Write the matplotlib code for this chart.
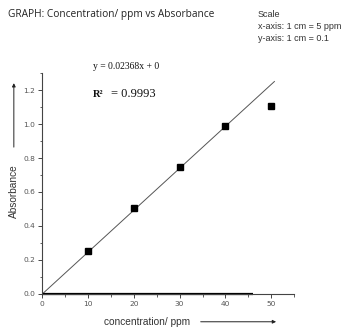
import numpy as np
import matplotlib
matplotlib.use("Agg")
import matplotlib.pyplot as plt
from matplotlib.ticker import MultipleLocator

# measured points
conc = [10, 20, 30, 40, 50]
absorb = [0.25, 0.505, 0.747, 0.99, 1.107]

# fitted line as drawn on the graph
fit_x = [0, 50.7]
fit_y = [0, 1.25]

x_ticks = [0, 10, 20, 30, 40, 50]
y_ticks = [0.0, 0.2, 0.4, 0.6, 0.8, 1.0, 1.2]

fig = plt.figure(figsize=(3.46, 3.28), dpi=100)
ax = fig.add_axes([0.1223, 0.1037, 0.7277, 0.6737])

ax.plot(fit_x, fit_y, color="#555555", lw=0.7)
ax.plot(conc, absorb, "s", color="black", ms=3.7)
# heavy stretch of the x axis
ax.plot([0, 46], [0, 0], color="black", lw=1.6, solid_capstyle="butt", clip_on=False)

ax.set_xlim(0, 55)
ax.set_ylim(0, 1.3)
ax.spines["top"].set_visible(False)
ax.spines["right"].set_visible(False)
for s in ("left", "bottom"):
    ax.spines[s].set_color("#444444")
    ax.spines[s].set_linewidth(0.8)

ax.set_xticks(x_ticks)
ax.set_yticks(y_ticks)
ax.set_yticklabels([f"{v:.1f}" for v in y_ticks])
ax.xaxis.set_minor_locator(MultipleLocator(5))
ax.yaxis.set_minor_locator(MultipleLocator(0.1))
ax.tick_params(which="major", length=3, width=0.7, color="#444444",
               labelsize=5.4, labelcolor="#555555", pad=2)
ax.tick_params(which="minor", length=1.8, width=0.6, color="#444444")

# title and scale notes
fig.text(0.023, 0.955, "GRAPH: Concentration/ ppm vs Absorbance",
         family="Open Sans", fontsize=7.3, color="#222222", va="center")
fig.text(0.745, 0.955, "Scale", family="Liberation Sans", fontsize=6.5,
         color="#333333", va="center")
fig.text(0.745, 0.918, "x-axis: 1 cm = 5 ppm", family="Liberation Sans",
         fontsize=6.5, color="#333333", va="center")
fig.text(0.745, 0.882, "y-axis: 1 cm = 0.1", family="Liberation Sans",
         fontsize=6.5, color="#333333", va="center")

# fit annotation
fig.text(0.268, 0.797, "y = 0.02368x + 0", family="Liberation Serif",
         fontsize=6.9, color="#111111", va="center")
fig.text(0.268, 0.712, "R\u00b2", family="Liberation Serif", fontsize=7.5,
         weight="bold", color="#111111", va="center")
fig.text(0.322, 0.712, "= 0.9993", family="Liberation Serif", fontsize=9,
         color="#111111", va="center")

# axis labels with arrows
fig.text(0.040, 0.418, "Absorbance", family="Liberation Sans", fontsize=7.3,
         color="#333333", rotation=90, ha="center", va="center")
fig.add_artist(matplotlib.patches.FancyArrowPatch(
    (0.040, 0.543), (0.040, 0.755), transform=fig.transFigure,
    arrowstyle="-|>", mutation_scale=5, lw=0.7, color="#222222"))
fig.text(0.426, 0.019, "concentration/ ppm", family="Liberation Sans",
         fontsize=7.3, color="#333333", ha="center", va="center")
fig.add_artist(matplotlib.patches.FancyArrowPatch(
    (0.572, 0.019), (0.806, 0.019), transform=fig.transFigure,
    arrowstyle="-|>", mutation_scale=5, lw=0.7, color="#222222"))

fig.savefig("out.png", dpi=100)
